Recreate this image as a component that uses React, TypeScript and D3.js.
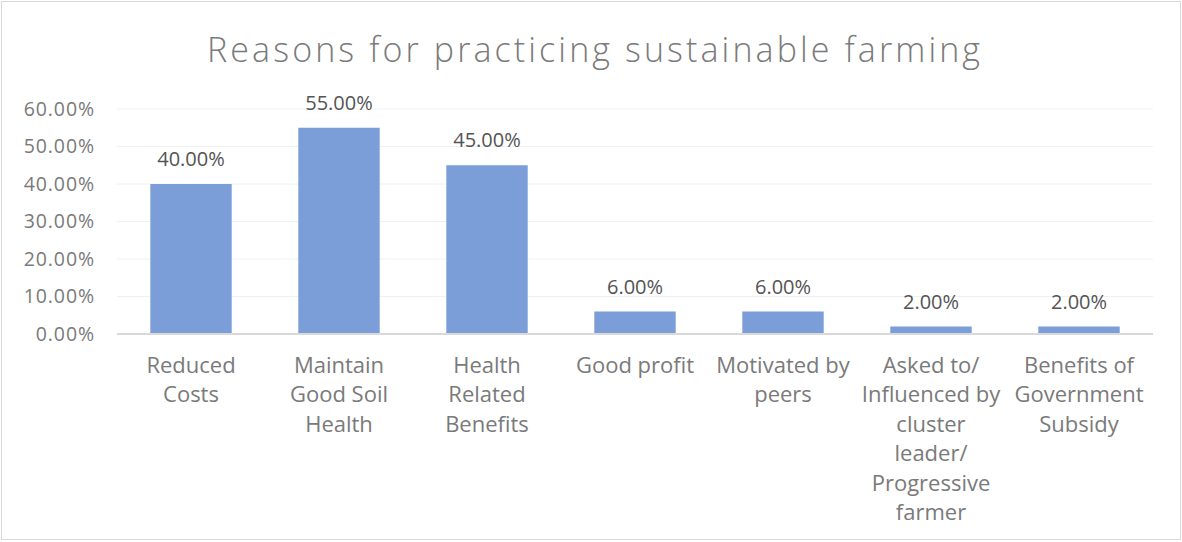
import * as React from "react";
import * as d3 from "d3";

const categories = [
  ["Reduced", "Costs"],
  ["Maintain", "Good Soil", "Health"],
  ["Health", "Related", "Benefits"],
  ["Good profit"],
  ["Motivated by", "peers"],
  ["Asked to/", "Influenced by", "cluster", "leader/", "Progressive", "farmer"],
  ["Benefits of", "Government", "Subsidy"],
];
const values = [0.4, 0.55, 0.45, 0.06, 0.06, 0.02, 0.02];
const yTicks = [0, 0.1, 0.2, 0.3, 0.4, 0.5, 0.6];

const width = 1182;
const height = 542;
const font = "'Open Sans', 'Noto Sans', sans-serif";

export default function App() {
  const left = 117;
  const right = 1153;
  const top = 109;
  const bottom = 334;

  const x = d3
    .scaleBand<number>()
    .domain(d3.range(values.length))
    .range([left, right])
    .paddingInner(0.45)
    .paddingOuter(0.225);
  const y = d3.scaleLinear().domain([0, 0.6]).range([bottom, top]);
  const fmt = d3.format(".2%");

  return (
    <svg
      width={width}
      height={height}
      style={{ position: "absolute", left: 0, top: 0, background: "#fff" }}
      fontFamily={font}
    >
      <rect x={1.5} y={1.5} width={width - 3} height={height - 4} fill="#fff" stroke="#d9d9d9" />
      <text
        x={593.5}
        y={62}
        textAnchor="middle"
        fontSize={34}
        fontWeight={300}
        fill="#7a7a7a"
        textLength={773}
        lengthAdjust="spacing"
      >
        Reasons for practicing sustainable farming
      </text>

      {yTicks.map((t) => (
        <g key={t}>
          {t > 0 && (
            <line x1={left} x2={right} y1={y(t)} y2={y(t)} stroke="#f0f0f0" strokeWidth={1} />
          )}
          <text
            x={95}
            y={y(t) + 6.5}
            textAnchor="end"
            fontSize={19.5}
            letterSpacing={0.9}
            fill="#7a7a7a"
          >
            {fmt(t)}
          </text>
        </g>
      ))}

      {values.map((v, i) => (
        <g key={i}>
          <rect
            x={x(i)}
            y={y(v)}
            width={x.bandwidth()}
            height={bottom - y(v)}
            fill="#7b9ed8"
          />
          <text
            x={(x(i) ?? 0) + x.bandwidth() / 2}
            y={y(v) - 18}
            textAnchor="middle"
            fontSize={20}
            fill="#545454"
          >
            {fmt(v)}
          </text>
          <text textAnchor="middle" fontSize={22} fill="#7a7a7a">
            {categories[i].map((line, j) => (
              <tspan key={j} x={(x(i) ?? 0) + x.bandwidth() / 2} y={373 + j * 29.4}>
                {line}
              </tspan>
            ))}
          </text>
        </g>
      ))}

      <line x1={left} x2={right} y1={bottom} y2={bottom} stroke="#d9d9d9" strokeWidth={2} />
    </svg>
  );
}
